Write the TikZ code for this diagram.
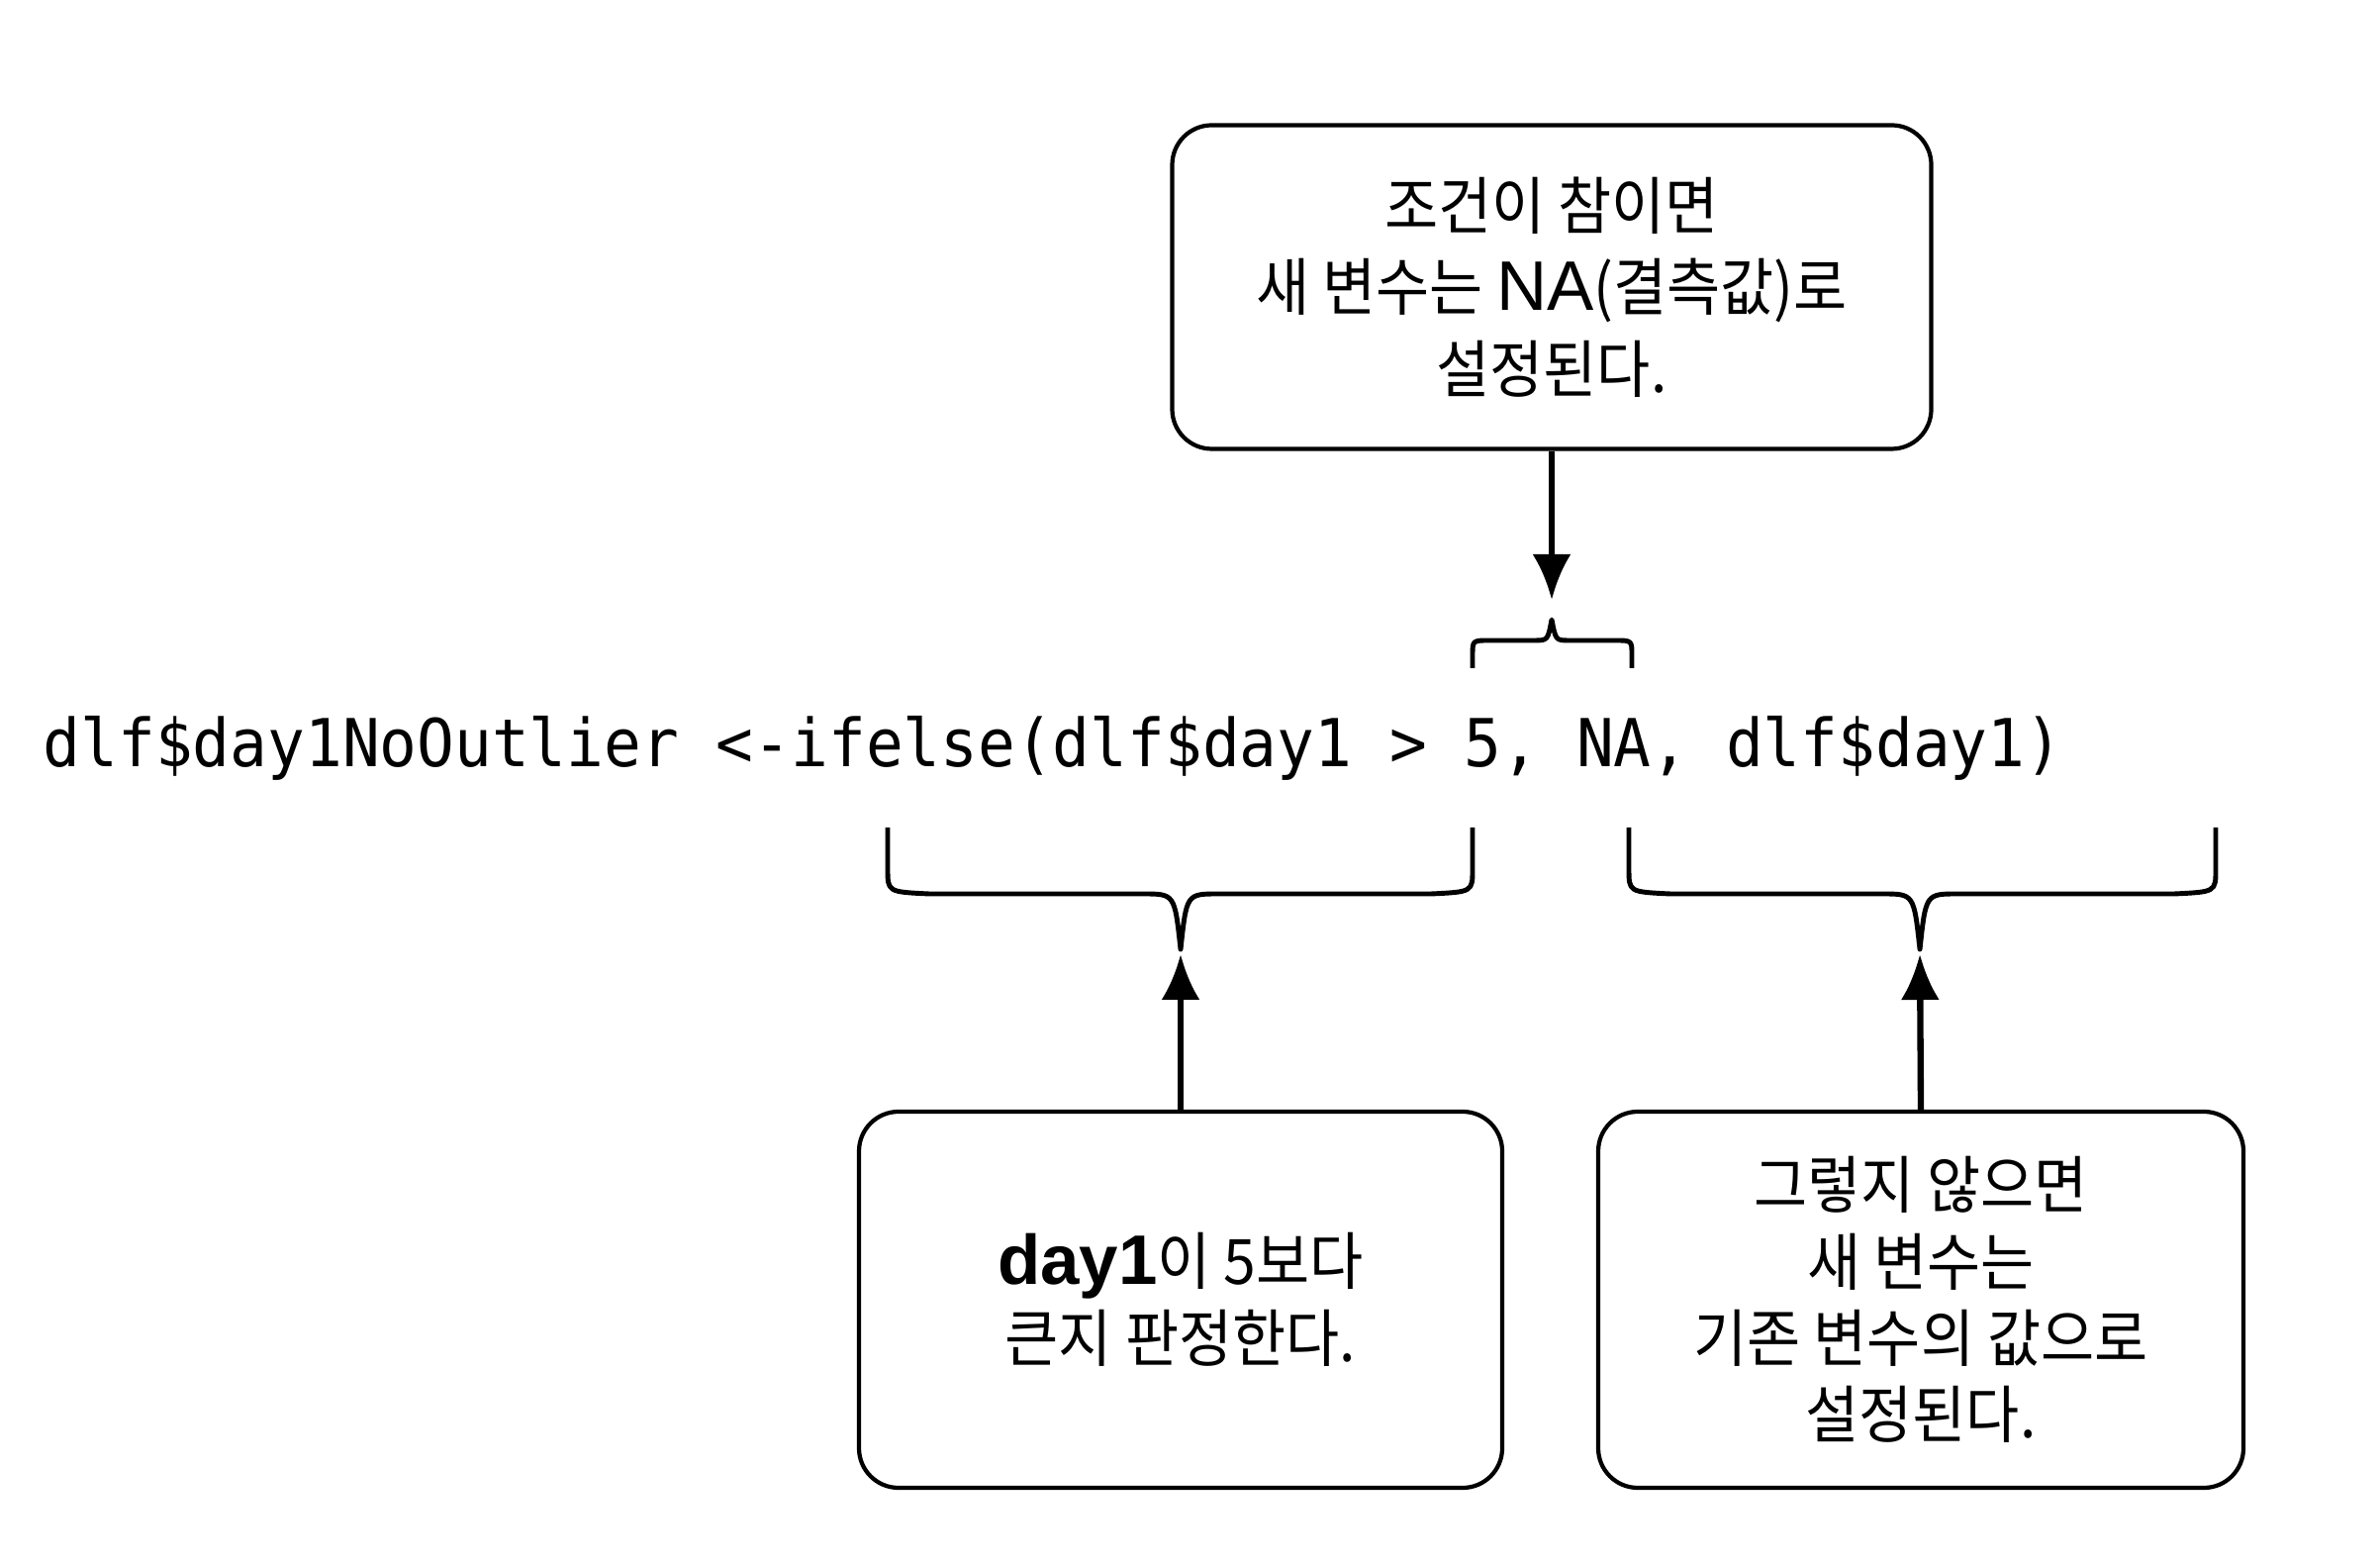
\documentclass[tikz,border=0pt]{standalone}
\usepackage{fontspec}
\usepackage{tikz}
\usetikzlibrary{arrows.meta, positioning}

\newfontfamily\kofont[FakeStretch=0.93]{Noto Sans CJK KR}
\newfontfamily\latinfont[Scale=1.12]{Liberation Sans}
\newfontfamily\codefont[FakeStretch=0.94]{DejaVu Sans Mono}

\begin{document}
\begin{tikzpicture}[
    note/.style={rectangle, rounded corners=0.4cm, draw=black, line width=1.2pt, align=center, text centered, font={\kofont\fontsize{18}{22}\selectfont}},
    code/.style={inner sep=0pt, font={\codefont\fontsize{19}{22}\selectfont}},
    curly/.style={line width=1.4pt, line join=round},
    arrow/.style={line width=1.8pt, -{Latex[length=4.6mm, width=3.9mm]}}
]
\useasboundingbox (0,0) rectangle (24.05,15.82);

\node (line) [code, anchor=base west] at (0.43,8.07) {dlf\$day1NoOutlier <-ifelse(dlf\$day1 > 5, NA, dlf\$day1)};

\node (truebox) [note, minimum width=7.67cm, minimum height=3.27cm, font={\kofont\fontsize{18}{23.5}\selectfont}] at (15.68,12.92) {조건이 참이면\\새 변수는 {\latinfont NA}(결측값)로\\설정된다.};
\node (condbox) [note, minimum width=6.5cm, minimum height=3.8cm] at (11.93,2.69) {{\latinfont\bfseries day1}이 5보다\\큰지 판정한다.};
\node (elsebox) [note, minimum width=6.52cm, minimum height=3.8cm] at (19.41,2.69) {그렇지 않으면\\새 변수는\\기존 변수의 값으로\\설정된다.};

% braces
\coordinate (natip) at (15.68,9.56);
\coordinate (condtip) at (11.93,6.23);
\coordinate (elsetip) at (19.40,6.23);
\draw [curly] (14.88,9.07) -- (14.88,9.2) .. controls (14.88,9.35) .. (15.05,9.35) -- (15.5,9.35) .. controls (15.64,9.35) .. (natip) .. controls (15.72,9.35) .. (15.86,9.35) -- (16.32,9.35) .. controls (16.49,9.35) .. (16.49,9.2) -- (16.49,9.07);
\draw [curly] (8.97,7.46) -- (8.97,7.04) .. controls (8.97,6.81) .. (9.39,6.79) -- (11.55,6.79) .. controls (11.87,6.79) .. (condtip) .. controls (11.99,6.79) .. (12.31,6.79) -- (14.46,6.79) .. controls (14.88,6.81) .. (14.88,7.04) -- (14.88,7.46);
\draw [curly] (16.46,7.46) -- (16.46,7.04) .. controls (16.46,6.81) .. (16.88,6.79) -- (19.02,6.79) .. controls (19.34,6.79) .. (elsetip) .. controls (19.46,6.79) .. (19.78,6.79) -- (21.97,6.79) .. controls (22.39,6.81) .. (22.39,7.04) -- (22.39,7.46);

\draw [arrow, shorten >=2mm] (truebox.south) -- (natip);
\draw [arrow, shorten >=0.5mm] (condbox.north) -- (condtip);
\draw [arrow, shorten >=0.5mm] (elsebox.north) -- (elsetip);
\end{tikzpicture}
\end{document}
